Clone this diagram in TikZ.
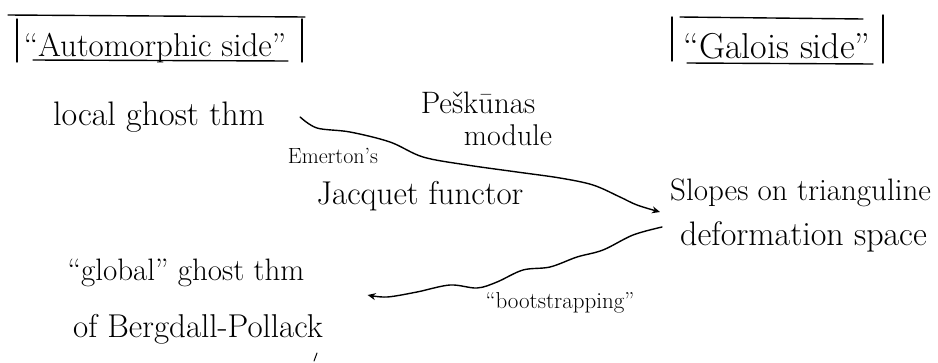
\documentclass[tikz,border=0pt]{standalone}
\usetikzlibrary{arrows.meta}
\begin{document}
\begin{tikzpicture}[x=1pt,y=-1pt,
  txt/.style={inner sep=0pt,anchor=base,font=\fontsize{#1}{#1}\selectfont},
  pen/.style={line width=1.4pt,line cap=round,line join=round},
  wavy/.style={pen,-{Stealth[length=8pt,width=7pt,open]}}]
\useasboundingbox (0,0) rectangle (938,362);
% Automorphic side box
\node[txt=33] (auto) at (155,56) {``Automorphic side''};
\draw[pen] (8,15) -- (305,17);
\draw[pen] (17,19) -- (17,62);
\draw[pen] (302,19) -- (302,62);
\draw[pen] (33,60) -- (288,61);
% Galois side box
\node[txt=36] (gal) at (777,58) {``Galois side''};
\draw[pen] (680,17) -- (863,19);
\draw[pen] (672,17) -- (672,61);
\draw[pen] (883,15) -- (883,63);
\draw[pen] (687,63) -- (873,64);
% texts
\node[txt=34] (local) at (159,125) {local ghost thm};
\node[txt=31] (pesk) at (478,113) {Pe\v{s}k\=unas};
\node[txt=30] (module) at (508,145) {module};
\node[txt=22] (emer) at (333,163) {Emerton's};
\node[txt=33] (jac) at (420,204) {Jacquet functor};
\node[txt=31,anchor=base west] (slopes) at (670,200) {Slopes on trianguline};
\node[txt=34,anchor=base west] (deform) at (680,245) {deformation space};
\node[txt=31] (global) at (186,280) {``global'' ghost thm};
\node[txt=33] (berg) at (198,337) {of Bergdall-Pollack};
\node[txt=23] (boot) at (560,308) {``bootstrapping''};
% connectors
\coordinate (s1) at ([xshift=35pt,yshift=8pt]local.base east);
\coordinate (e1) at ([xshift=-10pt,yshift=-12pt]slopes.base west);
\draw[wavy] plot[smooth,tension=0.55] coordinates {(s1) (317,128) (350,132) (390,142) (423,157) (467,165) (517,172) (560,178) (593,185) (620,197) (637,205) (e1)};
\coordinate (s2) at ([xshift=-18pt,yshift=18pt]deform.base west);
\coordinate (e2) at ([xshift=63pt,yshift=-15pt]global.base east);
\draw[wavy] plot[smooth,tension=0.55] coordinates {(s2) (633,235) (603,250) (577,257) (550,267) (523,270) (497,282) (477,288) (450,285) (417,292) (387,297) (e2)};
% stray tick
\draw[pen,line width=1pt] (314,361) -- (317,353);
\end{tikzpicture}
\end{document}
